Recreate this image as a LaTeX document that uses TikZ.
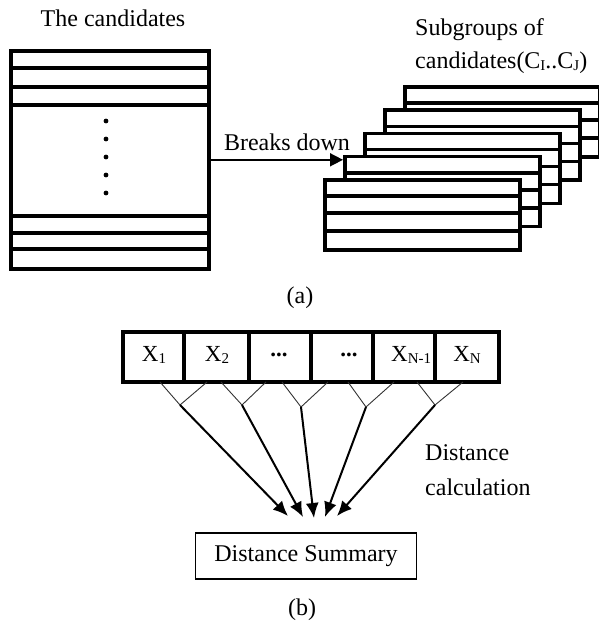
\documentclass[tikz,border=0pt]{standalone}
\usepackage{fontspec}
\setmainfont{Liberation Serif}
\usetikzlibrary{arrows.meta}
\newcommand{\subsc}[1]{\raisebox{-1.5pt}{\fontsize{15}{15}\selectfont #1}}
\begin{document}
\begin{tikzpicture}[x=1pt,y=-1pt,
  lbl/.style={font=\fontsize{24}{28}\selectfont, inner sep=0pt},
  cl/.style={font=\fontsize{23}{27}\selectfont, inner sep=0pt},
  thickln/.style={line width=3.6pt},
  grp/.style={draw, fill=white, line width=3.6pt, minimum width=195pt, minimum height=70pt, inner sep=0pt, anchor=north west},
  cellbox/.style={draw, line width=4.2pt, minimum height=50pt, inner sep=0pt, anchor=north west},
  thinln/.style={line width=0.9pt, black!80},
  arr/.style={line width=2pt, -{Latex[length=15pt,width=13pt]}}
]
\useasboundingbox (0,0) rectangle (598,627);

% ---------- (a) ----------
\node[lbl] (t1) at (113,18) {The candidates};
\node[draw, line width=3.6pt, minimum width=198pt, minimum height=218pt, anchor=north west, inner sep=0pt] (cand) at (9,49) {};
\foreach \yy in {68,87,105,216,233,249} \draw[thickln] (9,\yy) -- (207,\yy);
\foreach \yy in {121,139,157,175,193} \fill (106,\yy) circle (2.4);

\foreach \k in {4,3,2,1,0} {
  \node[grp] (g\k) at ({323+20*\k},{178-23.2*\k}) {};
  \foreach \r in {18,35,53} \draw[thickln] (g\k.north west) ++(0,\r) -- ++(195,0);
}

\node[lbl] (bd) at (287,142) {Breaks down};
\draw[line width=1.6pt, -{Triangle[length=13pt,width=13pt]}] (cand.east) -- (cand.east -| g1.west);

\node[lbl, anchor=west] (s1) at (415,30) {Subgroups of};
\node[lbl, anchor=west] (s2) at (415,63) {candidates(C\subsc{I}..C\subsc{J})};

\node[lbl] (pa) at (300,298) {(a)};

% ---------- (b) ----------
\node[cellbox, minimum width=61pt] (c1) at (121,330) {};
\node[cellbox, minimum width=65pt] (c2) at (182,330) {};
\node[cellbox, minimum width=62pt] (c3) at (247,330) {};
\node[cellbox, minimum width=62pt] (c4) at (309,330) {};
\node[cellbox, minimum width=62pt] (c5) at (371,330) {};
\node[cellbox, minimum width=64pt] (c6) at (433,330) {};

\node[cl] (x1) at (154,355) {X\subsc{1}};
\node[cl] (x2) at (217,355) {X\subsc{2}};
\node[cl] (x3) at (279,355) {\textbf{...}};
\node[cl] (x4) at (349,355) {\textbf{...}};
\node[cl, anchor=west] (x5) at (391,355) {X\subsc{N-1}};
\node[cl] (x6) at (467,355) {X\subsc{N}};

\coordinate (j1) at (180,405);
\coordinate (j2) at (242,405);
\coordinate (j3) at (301,407);
\coordinate (j4) at (366,407);
\coordinate (j5) at (435,405);

\draw[thinln] (160,382) -- (j1) -- (207,382);
\draw[thinln] (221,382) -- (j2) -- (266,382);
\draw[thinln] (282,382) -- (j3) -- (328,382);
\draw[thinln] (348,382) -- (j4) -- (394,382);
\draw[thinln] (417,382) -- (j5) -- (463,382);

\coordinate (e1) at (288,516);
\coordinate (e2) at (303,517);
\coordinate (e3) at (314,518);
\coordinate (e4) at (325,517);
\coordinate (e5) at (337,516);

\draw[arr] (j1) -- (e1);
\draw[arr] (j2) -- (e2);
\draw[arr] (j3) -- (e3);
\draw[arr] (j4) -- (e4);
\draw[arr] (j5) -- (e5);

\node[lbl, anchor=west] (d1) at (425,453) {Distance};
\node[lbl, anchor=west] (d2) at (425,487) {calculation};

\node[draw, line width=1.4pt, minimum width=221pt, minimum height=46pt, inner sep=0pt, lbl] (sum) at (306,556) {Distance Summary};
\node[lbl] (pb) at (302,610) {(b)};
\end{tikzpicture}
\end{document}
